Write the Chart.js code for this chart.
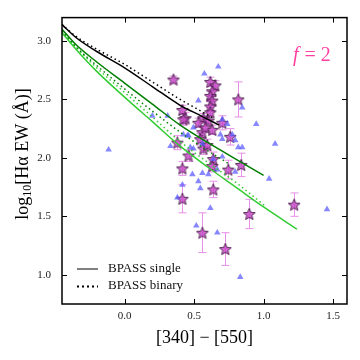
<!DOCTYPE html>
<html>
<head>
<meta charset="utf-8">
<script src="https://cdn.jsdelivr.net/npm/chart.js@4.4.1/dist/chart.umd.min.js"></script>
<style>
  html, body { margin: 0; padding: 0; background: #fff; }
</style>
</head>
<body>
<canvas id="ewChart" width="360" height="360"></canvas>
<script>
// axis ticks
const xTicks = [0.0, 0.5, 1.0, 1.5];
const yTicks = [1.0, 1.5, 2.0, 2.5, 3.0];

// BPASS model tracks (solid = single, dotted = binary)
const blackSingleX = [-0.45, -0.35, -0.2, 0.0, 0.2, 0.4, 0.55, 0.68];
const blackSingleY = [3.14, 3.03, 2.91, 2.77, 2.61, 2.45, 2.36, 2.28];
const blackBinaryX = [-0.45, -0.35, -0.2, 0.0, 0.2, 0.4, 0.55, 0.65];
const blackBinaryY = [3.14, 3.04, 2.93, 2.80, 2.65, 2.50, 2.40, 2.33];

const darkSingleX = [-0.45, -0.35, -0.2, 0.0, 0.2, 0.4, 0.6, 0.8, 1.0];
const darkSingleY = [3.10, 2.97, 2.82, 2.64, 2.46, 2.28, 2.13, 1.99, 1.85];
const darkBinaryX = [-0.45, -0.35, -0.2, 0.0, 0.2, 0.4, 0.6, 0.75];
const darkBinaryY = [3.09, 2.95, 2.79, 2.59, 2.40, 2.22, 2.06, 1.95];

const limeSingleX = [-0.45, -0.35, -0.2, 0.0, 0.2, 0.4, 0.6, 0.8, 1.0, 1.24];
const limeSingleY = [3.07, 2.93, 2.74, 2.52, 2.31, 2.10, 1.92, 1.75, 1.58, 1.39];
const limeBinaryX = [-0.45, -0.35, -0.2, 0.0, 0.2, 0.4, 0.6, 0.8, 1.02];
const limeBinaryY = [3.08, 2.95, 2.77, 2.56, 2.35, 2.14, 1.96, 1.79, 1.58];

// comparison sample (blue triangles)
const triX = [0.674, 0.574, 0.531, 0.20, 0.31, 0.846, 0.947, 1.083, 1.04, -0.115,
              0.33, 0.452, 0.423, 0.739, 0.689, 0.775, 0.703, 0.796, 0.818, 0.846,
              0.495, 0.473, 0.703, 0.56, 0.488, 0.603, 0.531, 0.545, 0.416, 0.796,
              0.38, 0.617, 0.516, 0.667, 0.832, 1.456, 0.667, 0.495, 0.703, 0.46,
              0.56, 0.638];
const triY = [2.78, 2.72, 2.49, 2.36, 2.36, 2.43, 2.29, 2.12, 1.82, 2.07,
              2.10, 2.19, 2.20, 2.29, 2.20, 2.20, 2.16, 2.15, 2.09, 2.09,
              2.08, 2.09, 2.01, 1.87, 1.86, 1.86, 1.80, 1.74, 1.77, 1.88,
              1.66, 1.57, 1.42, 1.36, 0.98, 1.56, 1.90, 2.26, 2.33, 2.19,
              2.12, 1.99];

// this sample (stars with error bars)
const starX = [0.352, 0.617, 0.653, 0.631, 0.617, 0.631, 0.617, 0.818, 0.416, 0.438,
               0.567, 0.531, 0.603, 0.703, 0.631, 0.56, 0.76, 0.423, 0.839, 0.638,
               0.631, 0.746, 0.638, 0.416, 0.46, 0.567, 0.38, 0.595, 0.545, 0.416,
               0.56, 0.725, 0.897, 1.22, 0.617, 0.581];
const starY = [2.67, 2.65, 2.62, 2.57, 2.53, 2.49, 2.44, 2.50, 2.41, 2.34,
               2.34, 2.30, 2.32, 2.30, 2.24, 2.22, 2.18, 2.33, 1.94, 1.99,
               1.93, 1.90, 1.73, 1.91, 2.02, 2.08, 2.13, 2.11, 2.16, 1.65,
               1.36, 1.22, 1.52, 1.60, 2.39, 2.26];
const starErr = [0.03, 0.04, 0.04, 0.04, 0.04, 0.04, 0.04, 0.15, 0.04, 0.05,
                 0.04, 0.04, 0.04, 0.06, 0.04, 0.05, 0.07, 0.05, 0.10, 0.06,
                 0.05, 0.08, 0.07, 0.06, 0.05, 0.05, 0.06, 0.05, 0.05, 0.12,
                 0.17, 0.14, 0.125, 0.10, 0.04, 0.04];

const serif = "'Liberation Serif', 'DejaVu Serif', serif";

function toPoints(xs, ys) {
    return xs.map((x, i) => ({ x: x, y: ys[i] }));
}

function makeStar(size) {
    const c = document.createElement('canvas');
    c.width = size;
    c.height = size;
    const g = c.getContext('2d');
    const cx = size / 2, cy = size / 2 + 0.6;
    const R = size / 2 - 0.8, r = R * 0.45;
    g.beginPath();
    for (let i = 0; i < 10; i++) {
        const a = -Math.PI / 2 + i * Math.PI / 5;
        const rad = i % 2 ? r : R;
        const px = cx + rad * Math.cos(a), py = cy + rad * Math.sin(a);
        if (i === 0) g.moveTo(px, py); else g.lineTo(px, py);
    }
    g.closePath();
    g.fillStyle = 'rgba(200, 75, 200, 0.85)';
    g.fill();
    g.strokeStyle = '#4a1f4a';
    g.lineWidth = 0.9;
    g.stroke();
    return c;
}

function track(xs, ys, color, dotted) {
    return {
        type: 'scatter',
        data: toPoints(xs, ys),
        showLine: true,
        borderColor: color,
        borderWidth: 1.5,
        borderDash: dotted ? [1.5, 3] : [],
        pointRadius: 0,
        cubicInterpolationMode: 'monotone',
        order: 0
    };
}

// frame, inward ticks, error bars, legend and labels
const decorations = {
    id: 'decorations',
    beforeDatasetsDraw(chart) {
        const { ctx, chartArea: a, scales: { x, y } } = chart;
        ctx.save();
        ctx.beginPath();
        ctx.rect(a.left, a.top, a.right - a.left, a.bottom - a.top);
        ctx.clip();
        ctx.strokeStyle = '#e890e8';
        ctx.lineWidth = 1;
        starX.forEach((sx, i) => {
            const px = Math.round(x.getPixelForValue(sx)) + 0.5;
            const y1 = y.getPixelForValue(starY[i] - starErr[i]);
            const y2 = y.getPixelForValue(starY[i] + starErr[i]);
            ctx.beginPath();
            ctx.moveTo(px, y1); ctx.lineTo(px, y2);
            ctx.moveTo(px - 4, y1); ctx.lineTo(px + 4, y1);
            ctx.moveTo(px - 4, y2); ctx.lineTo(px + 4, y2);
            ctx.stroke();
        });
        ctx.restore();
    },
    afterDraw(chart) {
        const { ctx, chartArea: a, scales: { x, y } } = chart;
        ctx.save();
        // ticks pointing inward on all four sides
        ctx.strokeStyle = '#000';
        ctx.lineWidth = 1;
        ctx.beginPath();
        xTicks.forEach(v => {
            const px = Math.round(x.getPixelForValue(v)) + 0.5;
            ctx.moveTo(px, a.bottom); ctx.lineTo(px, a.bottom - 5);
            ctx.moveTo(px, a.top); ctx.lineTo(px, a.top + 5);
        });
        yTicks.forEach(v => {
            const py = Math.round(y.getPixelForValue(v)) + 0.5;
            ctx.moveTo(a.left, py); ctx.lineTo(a.left + 5, py);
            ctx.moveTo(a.right, py); ctx.lineTo(a.right - 5, py);
        });
        ctx.stroke();
        ctx.lineWidth = 1.5;
        ctx.strokeRect(a.left, a.top, a.right - a.left, a.bottom - a.top);

        // legend
        ctx.lineWidth = 2;
        ctx.strokeStyle = '#808080';
        ctx.beginPath();
        ctx.moveTo(77, 269); ctx.lineTo(98, 269);
        ctx.stroke();
        ctx.strokeStyle = '#000';
        ctx.setLineDash([2, 3]);
        ctx.beginPath();
        ctx.moveTo(77, 286.5); ctx.lineTo(98, 286.5);
        ctx.stroke();
        ctx.setLineDash([]);
        ctx.fillStyle = '#111';
        ctx.font = '13px ' + serif;
        ctx.textBaseline = 'middle';
        ctx.textAlign = 'left';
        ctx.fillText('BPASS single', 108, 269);
        ctx.fillText('BPASS binary', 108, 286);

        // f = 2
        ctx.fillStyle = '#ff40a0';
        ctx.font = 'italic 20px ' + serif;
        ctx.fillText('f', 293, 56);
        const fw = ctx.measureText('f').width;
        ctx.font = '20px ' + serif;
        ctx.fillText(' = 2', 293 + fw + 1, 56);

        // y axis title with subscript
        ctx.fillStyle = '#000';
        ctx.translate(23, 154);
        ctx.rotate(-Math.PI / 2);
        const big = '18px ' + serif, small = '12px ' + serif;
        ctx.font = big;
        const w1 = ctx.measureText('log').width;
        const w3 = ctx.measureText('[H\u03b1 EW (\u00c5)]').width;
        ctx.font = small;
        const w2 = ctx.measureText('10').width;
        let tx = -(w1 + w2 + w3) / 2;
        ctx.font = big;
        ctx.fillText('log', tx, 0);
        tx += w1;
        ctx.font = small;
        ctx.fillText('10', tx, 5);
        tx += w2;
        ctx.font = big;
        ctx.fillText('[H\u03b1 EW (\u00c5)]', tx, 0);
        ctx.restore();
    }
};

const starImg = makeStar(14);

new Chart(document.getElementById('ewChart').getContext('2d'), {
    type: 'scatter',
    data: {
        datasets: [
            track(blackSingleX, blackSingleY, '#000000', false),
            track(blackBinaryX, blackBinaryY, '#000000', true),
            track(darkSingleX, darkSingleY, '#007f00', false),
            track(darkBinaryX, darkBinaryY, '#007f00', true),
            track(limeSingleX, limeSingleY, '#33cc33', false),
            track(limeBinaryX, limeBinaryY, '#33cc33', true),
            {
                data: toPoints(triX, triY),
                pointStyle: 'triangle',
                pointRadius: 3.8,
                backgroundColor: 'rgba(95, 95, 255, 0.75)',
                borderColor: 'rgba(95, 95, 255, 0.75)',
                borderWidth: 0,
                order: 1
            },
            {
                data: toPoints(starX, starY),
                pointStyle: starImg,
                pointRadius: 7,
                order: 2
            }
        ]
    },
    options: {
        responsive: false,
        animation: false,
        devicePixelRatio: 1,
        layout: { padding: { top: 13, right: 13, left: 0, bottom: 0 } },
        plugins: {
            legend: { display: false },
            tooltip: { enabled: false }
        },
        scales: {
            x: {
                type: 'linear',
                min: -0.45,
                max: 1.6,
                afterBuildTicks: s => { s.ticks = xTicks.map(v => ({ value: v })); },
                afterFit: s => { s.height = 56; },
                grid: { display: false, drawTicks: false },
                border: { display: false },
                ticks: {
                    padding: 6,
                    color: '#222',
                    font: { family: serif, size: 11 },
                    callback: v => v.toFixed(1)
                },
                title: {
                    display: true,
                    text: '[340] \u2212 [550]',
                    color: '#000',
                    font: { family: serif, size: 18 },
                    padding: { top: 0, bottom: 11 }
                }
            },
            y: {
                type: 'linear',
                min: 0.75,
                max: 3.2,
                afterBuildTicks: s => { s.ticks = yTicks.map(v => ({ value: v })); },
                afterFit: s => { s.width = 62; },
                grid: { display: false, drawTicks: false },
                border: { display: false },
                ticks: {
                    padding: 11,
                    color: '#222',
                    font: { family: serif, size: 11 },
                    callback: v => v.toFixed(1)
                }
            }
        }
    },
    plugins: [decorations]
});
</script>
</body>
</html>
